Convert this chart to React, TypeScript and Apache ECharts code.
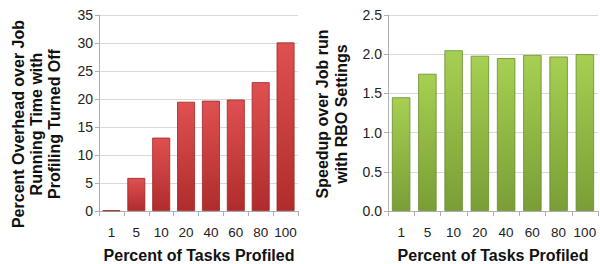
import React, { useEffect, useRef } from "react";
import * as echarts from "echarts";

const categories = ["1", "5", "10", "20", "40", "60", "80", "100"];
const overheadValues = [0.1, 5.9, 13.1, 19.5, 19.7, 19.9, 23.0, 30.1];
const speedupValues = [1.45, 1.75, 2.05, 1.98, 1.95, 1.99, 1.97, 2.0];
const leftTicks = { min: 0, max: 35, interval: 5 };
const rightTicks = { min: 0, max: 2.5, interval: 0.5 };

const FONT = "'Liberation Sans', Arial, sans-serif";

export default function App() {
  const ref = useRef<HTMLDivElement>(null);
  useEffect(() => {
    document.body.style.margin = "0";
    const chart = echarts.init(ref.current!, undefined, { renderer: "svg" });
    const axisLabel = { fontSize: 14, color: "#222", fontFamily: FONT };
    const xAxisCommon = {
      type: "category" as const,
      data: categories,
      axisLine: { lineStyle: { color: "#b0b0b0" } },
      axisTick: { show: true, length: 5, lineStyle: { color: "#b0b0b0" } },
      axisLabel: { ...axisLabel, fontSize: 13.5, margin: 14, interval: 0 },
    };
    const yAxisCommon = {
      type: "value" as const,
      axisLine: { show: true, lineStyle: { color: "#b0b0b0" } },
      axisTick: { show: true, length: 4, lineStyle: { color: "#b0b0b0" } },
      splitLine: { lineStyle: { color: "#d9d9d9" } },
    };
    const redGrad = new echarts.graphic.LinearGradient(0, 0, 0, 1, [
      { offset: 0, color: "#e05050" },
      { offset: 1, color: "#b02c2c" },
    ]);
    const greenGrad = new echarts.graphic.LinearGradient(0, 0, 0, 1, [
      { offset: 0, color: "#a6d052" },
      { offset: 1, color: "#7a9e36" },
    ]);
    const titleStyle = {
      fontSize: 16,
      fontWeight: "bold" as const,
      fill: "#111",
      fontFamily: FONT,
      align: "center" as const,
      verticalAlign: "middle" as const,
    };
    chart.setOption({
      animation: false,
      grid: [
        { left: 99, right: 302, top: 15, bottom: 53 },
        { left: 388, right: 2, top: 15, bottom: 53 },
      ],
      xAxis: [
        { ...xAxisCommon, gridIndex: 0 },
        { ...xAxisCommon, gridIndex: 1 },
      ],
      yAxis: [
        {
          ...yAxisCommon,
          gridIndex: 0,
          ...leftTicks,
          axisLabel: { ...axisLabel, margin: 6 },
        },
        {
          ...yAxisCommon,
          gridIndex: 1,
          ...rightTicks,
          axisLabel: {
            ...axisLabel,
            margin: 6,
            formatter: (v: number) => v.toFixed(1),
          },
        },
      ],
      series: [
        {
          type: "bar",
          xAxisIndex: 0,
          yAxisIndex: 0,
          data: overheadValues,
          barCategoryGap: "28%",
          itemStyle: { color: redGrad, borderColor: "#9a2626", borderWidth: 0.8 },
        },
        {
          type: "bar",
          xAxisIndex: 1,
          yAxisIndex: 1,
          data: speedupValues,
          barCategoryGap: "30%",
          itemStyle: { color: greenGrad, borderColor: "#6a8a2e", borderWidth: 0.8 },
        },
      ],
      graphic: [
        {
          type: "text",
          x: 36,
          y: 124,
          rotation: Math.PI / 2,
          style: {
            ...titleStyle,
            text: "Percent Overhead over Job\nRunning Time with\nProfiling Turned Off",
            lineHeight: 18,
          },
        },
        {
          type: "text",
          x: 332,
          y: 114,
          rotation: Math.PI / 2,
          style: {
            ...titleStyle,
            text: "Speedup over Job run\nwith RBO Settings",
            lineHeight: 19,
          },
        },
        {
          type: "text",
          x: 199,
          y: 255,
          style: { ...titleStyle, text: "Percent of Tasks Profiled" },
        },
        {
          type: "text",
          x: 493,
          y: 255,
          style: { ...titleStyle, text: "Percent of Tasks Profiled" },
        },
      ],
    });
    return () => chart.dispose();
  }, []);
  return <div ref={ref} style={{ width: 600, height: 264 }} />;
}
